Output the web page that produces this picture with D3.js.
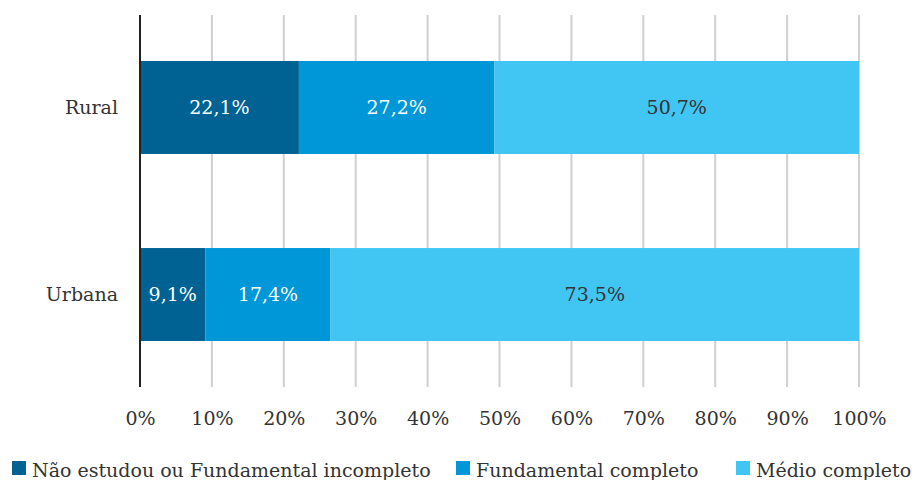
<!DOCTYPE html>
<html>
<head>
<meta charset="utf-8">
<script src="https://cdn.jsdelivr.net/npm/d3@7"></script>
<style>
  html, body { margin: 0; padding: 0; background: #fff; }
  svg { display: block; font-family: "DejaVu Serif", serif; }
</style>
</head>
<body>
<svg id="chart" width="914" height="480"></svg>
<script>
// Escolaridade por situação do domicílio (%)
const categories = ["Rural", "Urbana"];
const seriesNames = ["Não estudou ou Fundamental incompleto", "Fundamental completo", "Médio completo"];
const naoEstudou = [22.1, 9.1];
const fundamental = [27.2, 17.4];
const medio = [50.7, 73.5];
const tickValues = [0, 10, 20, 30, 40, 50, 60, 70, 80, 90, 100];

const colors = ["#006293", "#0097d8", "#41c6f3"];
const labelColors = ["#ffffff", "#ffffff", "#333333"];
const fontSize = 19;

const svg = d3.select("#chart");
const plot = { left: 140, right: 859, top: 15, bottom: 387 };

const rows = categories.map((c, i) => ({
  cat: c,
  s0: naoEstudou[i], s1: fundamental[i], s2: medio[i]
}));
const stacked = d3.stack().keys(["s0", "s1", "s2"])(rows);

const x = d3.scaleLinear().domain([0, 100]).range([plot.left, plot.right]);
const yb = d3.scaleBand().domain(categories).range([plot.top, plot.bottom])
  .paddingInner(0.503).paddingOuter(0.246);

// gridlines
svg.append("g")
  .selectAll("line")
  .data(tickValues.slice(1))
  .join("line")
  .attr("x1", d => x(d)).attr("x2", d => x(d))
  .attr("y1", plot.top).attr("y2", plot.bottom)
  .attr("stroke", "#d0d0d0").attr("stroke-width", 2);

// bars
const layer = svg.append("g").selectAll("g")
  .data(stacked)
  .join("g")
  .attr("fill", (d, i) => colors[i]);

layer.selectAll("rect")
  .data(d => d)
  .join("rect")
  .attr("x", d => x(d[0]))
  .attr("y", d => yb(d.data.cat))
  .attr("width", d => x(d[1]) - x(d[0]))
  .attr("height", yb.bandwidth());

// value labels
stacked.forEach((s, i) => {
  svg.append("g").selectAll("text")
    .data(s)
    .join("text")
    .attr("x", d => (x(d[0]) + x(d[1])) / 2)
    .attr("y", d => yb(d.data.cat) + yb.bandwidth() / 2)
    .attr("dy", "0.35em")
    .attr("text-anchor", "middle")
    .attr("fill", labelColors[i])
    .attr("font-size", fontSize)
    .text(d => (d[1] - d[0]).toFixed(1).replace(".", ",") + "%");
});

// x axis tick labels
const xAxis = d3.axisBottom(x).tickValues(tickValues).tickSize(0).tickPadding(0)
  .tickFormat(d => d + "%");
const gx = svg.append("g").attr("transform", "translate(0,411)").call(xAxis);
gx.select(".domain").remove();
gx.selectAll("text").attr("font-size", fontSize).attr("fill", "#333").attr("font-family", "DejaVu Serif, serif");

// category labels
const yAxis = d3.axisLeft(yb).tickSize(0).tickPadding(22);
const gy = svg.append("g").attr("transform", `translate(${plot.left},0)`).call(yAxis);
gy.select(".domain").remove();
gy.selectAll("text").attr("font-size", fontSize).attr("fill", "#333").attr("font-family", "DejaVu Serif, serif");

// left axis line
svg.append("line")
  .attr("x1", plot.left).attr("x2", plot.left)
  .attr("y1", plot.top).attr("y2", plot.bottom)
  .attr("stroke", "#222").attr("stroke-width", 2);

// legend
const legendX = [12, 456, 736];
const legend = svg.append("g").selectAll("g")
  .data(seriesNames)
  .join("g")
  .attr("transform", (d, i) => `translate(${legendX[i]},461)`);
legend.append("rect").attr("width", 14).attr("height", 14).attr("fill", (d, i) => colors[i]);
legend.append("text")
  .attr("x", 20).attr("y", 16)
  .attr("font-size", fontSize).attr("fill", "#333")
  .text(d => d);
</script>
</body>
</html>
